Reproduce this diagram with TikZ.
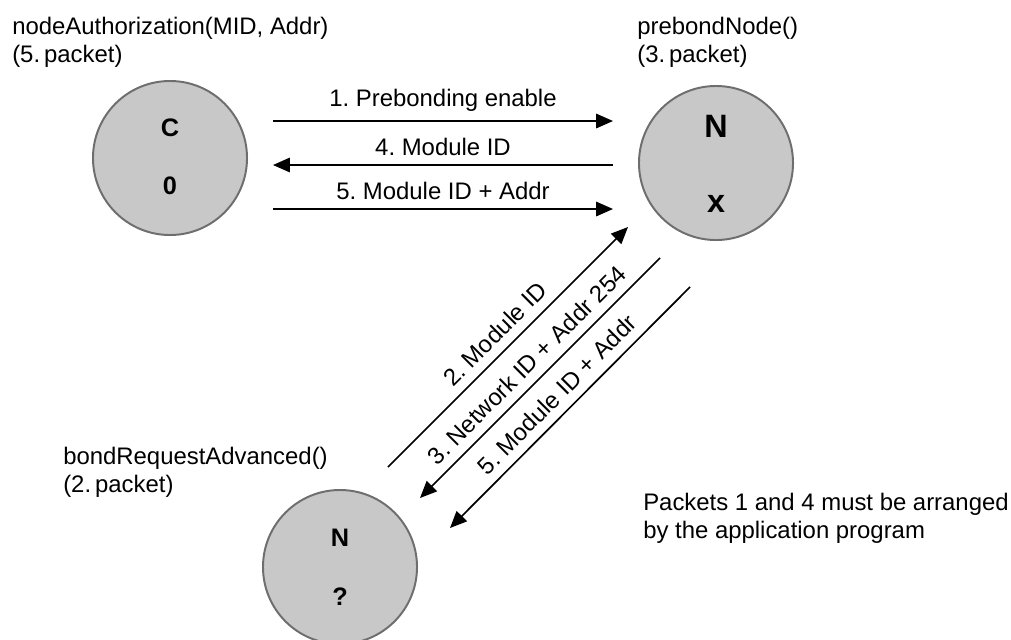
\documentclass[tikz,border=0pt]{standalone}
\usepackage{fontspec}
\setmainfont{Liberation Sans}
\usetikzlibrary{arrows.meta}
\definecolor{devfill}{HTML}{C8C8C8}
\definecolor{devline}{HTML}{6E6E6E}
\frenchspacing
\begin{document}
\begin{tikzpicture}[x=0.025cm, y=-0.025cm,
		every node/.style={font=\fontsize{17}{20}\selectfont},
		dev/.style={circle, draw=devline, fill=devfill, line width=1.4pt, minimum size=3.85cm, inner sep=0pt},
		sym/.style={font=\fontsize{18}{20}\selectfont\bfseries, inner sep=0pt},
		bigsym/.style={font=\fontsize{23}{25}\selectfont\bfseries, inner sep=0pt},
		caption/.style={anchor=north west, align=left, inner sep=0pt},
		msg/.style={-{Triangle[length=0.42cm, width=0.36cm]}, line width=1.2pt},
		tag/.style={above=3pt}]
	\useasboundingbox (0,0) rectangle (1011,639);
	\node[dev] (coord) at(170,158) {};
	\node[dev] (prebond) at(716,163) {};
	\node[dev] (bonder) at(340,567) {};
	\node[sym] (coordC) at(170,127.5) {C};
	\node[sym] (coordAddr) at(170,186) {0};
	\node[bigsym] (prebondN) at(716,126.5) {N};
	\node[bigsym] (prebondAddr) at(716,203.5) {x};
	\node[sym] (bonderN) at(340,538) {N};
	\node[sym] (bonderAddr) at(340,597) {?};
	\node[caption] (coordText) at(12,17) {nodeAuthorization(MID, Addr)\\(5.\,packet)};
	\node[caption] (prebondText) at(637,17) {prebondNode()\\(3.\,packet)};
	\node[caption] (bonderText) at(63,447) {bondRequestAdvanced()\\(2.\,packet)};
	\node[caption] (note) at(643,493) {Packets 1 and 4 must be arranged\\by the application program};
	\coordinate (m1s) at(273,121); \coordinate (m1e) at(613,121);
	\coordinate (m4s) at(613,165); \coordinate (m4e) at(273,165);
	\coordinate (m5s) at(273,209); \coordinate (m5e) at(613,209);
	\coordinate (d2s) at(388,467); \coordinate (d2e) at(628,227);
	\coordinate (d3s) at(660,258); \coordinate (d3e) at(420,498);
	\coordinate (d5s) at(690,287); \coordinate (d5e) at(450,528);
	\draw[msg] (m1s)--node[tag] {1. Prebonding enable} (m1e);
	\draw[msg] (m4s)--node[tag] {4. Module ID} (m4e);
	\draw[msg] (m5s)--node[tag] {5. Module ID + Addr} (m5e);
	\draw[msg] (d2s)--node[sloped, tag] {2. Module ID} (d2e);
	\draw[msg] (d3s)--node[sloped, tag] {3. Network ID + Addr 254} (d3e);
	\draw[msg] (d5s)--node[sloped, tag] {5. Module ID + Addr} (d5e);
\end{tikzpicture}
\end{document}
